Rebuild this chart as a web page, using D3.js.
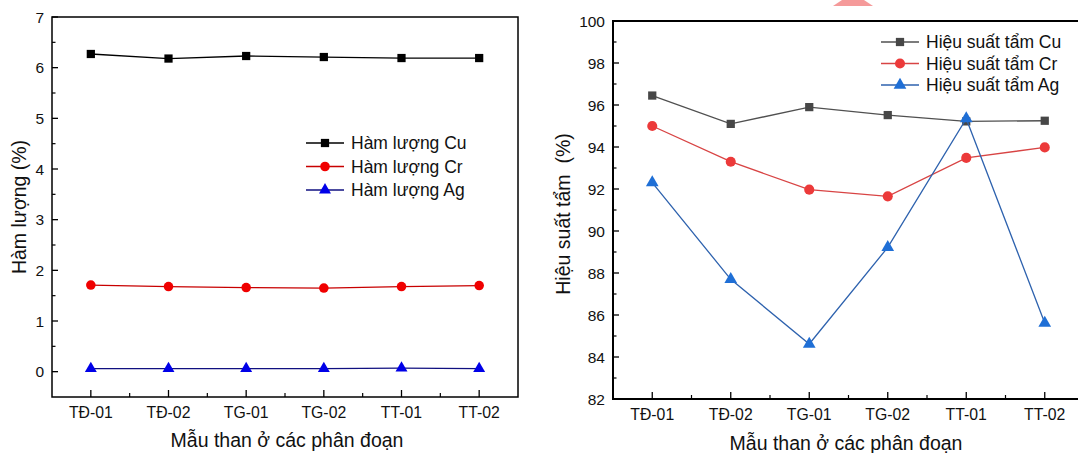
<!DOCTYPE html>
<html>
<head>
<meta charset="utf-8">
<script src="https://cdn.jsdelivr.net/npm/d3@7/dist/d3.min.js"></script>
<style>
	body { margin: 0; background: #fff; }
	svg { display: block; font-family: "Liberation Sans", Arial, sans-serif; }
</style>
</head>
<body>
<svg id="chart" width="1078" height="453"></svg>
<script>
// samples (x axis)
var categories = ["TĐ-01", "TĐ-02", "TG-01", "TG-02", "TT-01", "TT-02"];

// left panel: content (%)
var contentCu = [6.27, 6.18, 6.23, 6.21, 6.19, 6.19];
var contentCr = [1.71, 1.68, 1.66, 1.65, 1.68, 1.70];
var contentAg = [0.06, 0.06, 0.06, 0.06, 0.07, 0.06];
var contentTicks = [0, 1, 2, 3, 4, 5, 6, 7];

// right panel: leaching yield (%)
var yieldCu = [96.45, 95.1, 95.9, 95.52, 95.22, 95.25];
var yieldCr = [95.0, 93.3, 91.97, 91.65, 93.48, 93.98];
var yieldAg = [92.3, 87.7, 84.62, 89.22, 95.35, 85.62];
var yieldTicks = [82, 84, 86, 88, 90, 92, 94, 96, 98, 100];

var svg = d3.select("#chart");

function drawPanel(p) {
	var g = svg.append("g");
	var x = d3.scaleLinear().domain([0.5, 6.5]).range([p.left, p.right]);
	var y = d3.scaleLinear().domain(p.yDomain).range([p.bottom, p.top]);

	// minor / major ticks, pointing inward
	var yMinor = p.yTicks.slice(0, -1).map(function (d, i) { return (d + p.yTicks[i + 1]) / 2; });
	g.selectAll("line.ymaj").data(p.yTicks).enter().append("line")
		.attr("x1", p.left).attr("x2", p.left + 6)
		.attr("y1", function (d) { return y(d); }).attr("y2", function (d) { return y(d); })
		.attr("stroke", "#000").attr("stroke-width", 1.3);
	g.selectAll("line.ymin").data(yMinor).enter().append("line")
		.attr("x1", p.left).attr("x2", p.left + 3.5)
		.attr("y1", function (d) { return y(d); }).attr("y2", function (d) { return y(d); })
		.attr("stroke", "#000").attr("stroke-width", 1.2);
	var idx = d3.range(1, categories.length + 1);
	g.selectAll("line.xmaj").data(idx).enter().append("line")
		.attr("x1", function (d) { return x(d); }).attr("x2", function (d) { return x(d); })
		.attr("y1", p.bottom).attr("y2", p.bottom - 7)
		.attr("stroke", "#000").attr("stroke-width", 1.3);
	g.selectAll("line.xmin").data(idx.slice(0, -1)).enter().append("line")
		.attr("x1", function (d) { return x(d + 0.5); }).attr("x2", function (d) { return x(d + 0.5); })
		.attr("y1", p.bottom).attr("y2", p.bottom - 4)
		.attr("stroke", "#000").attr("stroke-width", 1.2);

	// tick labels
	g.selectAll("text.ylab").data(p.yTicks).enter().append("text")
		.attr("x", p.left - 8).attr("y", function (d) { return y(d) + 5.5; })
		.attr("text-anchor", "end").attr("font-size", 15.5).attr("fill", "#111")
		.text(function (d) { return d; });
	g.selectAll("text.xlab").data(categories).enter().append("text")
		.attr("x", function (d, i) { return x(i + 1); }).attr("y", p.bottom + 21)
		.attr("text-anchor", "middle").attr("font-size", 15.8).attr("fill", "#111")
		.text(function (d) { return d; });

	// frame
	if (p.boxed) {
		g.append("rect")
			.attr("x", p.left).attr("y", p.top)
			.attr("width", p.right - p.left).attr("height", p.bottom - p.top)
			.attr("fill", "none").attr("stroke", "#000").attr("stroke-width", 1.5);
	} else {
		g.append("path")
			.attr("d", "M" + p.frameRight + "," + p.top + "H" + p.left + "V" + p.bottom + "H" + p.frameRight)
			.attr("fill", "none").attr("stroke", "#000").attr("stroke-width", 2);
	}

	// series
	var line = d3.line()
		.x(function (d, i) { return x(i + 1); })
		.y(function (d) { return y(d); });
	p.series.forEach(function (s) {
		g.append("path").datum(s.values)
			.attr("d", line)
			.attr("fill", "none").attr("stroke", s.line).attr("stroke-width", 1.3);
		g.selectAll(null).data(s.values).enter().append("path")
			.attr("transform", function (d, i) { return "translate(" + x(i + 1) + "," + y(d) + ")"; })
			.attr("d", d3.symbol().type(s.symbol).size(s.size))
			.attr("fill", s.fill);
	});

	// legend
	var lg = g.append("g");
	p.series.forEach(function (s, i) {
		var ly = p.legend.y + i * p.legend.step;
		lg.append("line")
			.attr("x1", p.legend.x).attr("x2", p.legend.x + 38)
			.attr("y1", ly).attr("y2", ly)
			.attr("stroke", s.line).attr("stroke-width", 1.5);
		lg.append("path")
			.attr("transform", "translate(" + (p.legend.x + 19) + "," + ly + ")")
			.attr("d", d3.symbol().type(s.symbol).size(s.size))
			.attr("fill", s.fill);
		lg.append("text")
			.attr("x", p.legend.x + 45).attr("y", ly + 6)
			.attr("font-size", 17.5).attr("fill", "#111")
			.text(s.name);
	});

	// axis titles
	g.append("text")
		.attr("x", p.xTitle[0]).attr("y", p.xTitle[1])
		.attr("text-anchor", "middle").attr("font-size", 19.5).attr("fill", "#111")
		.text("Mẫu than ở các phân đoạn");
	g.append("text")
		.attr("transform", "translate(" + p.yTitle[0] + "," + p.yTitle[1] + ") rotate(-90)")
		.attr("text-anchor", "middle").attr("font-size", 19.5).attr("fill", "#111")
		.text(p.yLabel);
}

drawPanel({
	left: 52, right: 518, top: 17, bottom: 397,
	yDomain: [-0.5, 7], yTicks: contentTicks, boxed: true,
	yLabel: "Hàm lượng (%)",
	xTitle: [287, 447], yTitle: [26, 207],
	legend: { x: 306, y: 143, step: 23.5 },
	series: [
		{ name: "Hàm lượng Cu", values: contentCu, line: "#000", fill: "#000", symbol: d3.symbolSquare, size: 68 },
		{ name: "Hàm lượng Cr", values: contentCr, line: "#c80000", fill: "#f00000", symbol: d3.symbolCircle, size: 72 },
		{ name: "Hàm lượng Ag", values: contentAg, line: "#101080", fill: "#0000e8", symbol: d3.symbolTriangle, size: 62 }
	]
});

drawPanel({
	left: 613, right: 1084, top: 21, bottom: 399, frameRight: 1090,
	yDomain: [82, 100], yTicks: yieldTicks, boxed: false,
	yLabel: "Hiệu suất tẩm\u00a0\u00a0(%)",
	xTitle: [846, 450], yTitle: [570, 214],
	legend: { x: 881, y: 42, step: 21.5 },
	series: [
		{ name: "Hiệu suất tẩm Cu", values: yieldCu, line: "#505050", fill: "#474747", symbol: d3.symbolSquare, size: 68 },
		{ name: "Hiệu suất tẩm Cr", values: yieldCr, line: "#d84444", fill: "#ec3a3a", symbol: d3.symbolCircle, size: 80 },
		{ name: "Hiệu suất tẩm Ag", values: yieldAg, line: "#2e62ae", fill: "#1f6fd6", symbol: d3.symbolTriangle, size: 70 }
	]
});

// pink mark cut off at the top edge of the source image
svg.append("path")
	.attr("d", "M833,6 L873,6 L864,0 L842,0 Z")
	.attr("fill", "#f59a9a");
</script>
</body>
</html>
